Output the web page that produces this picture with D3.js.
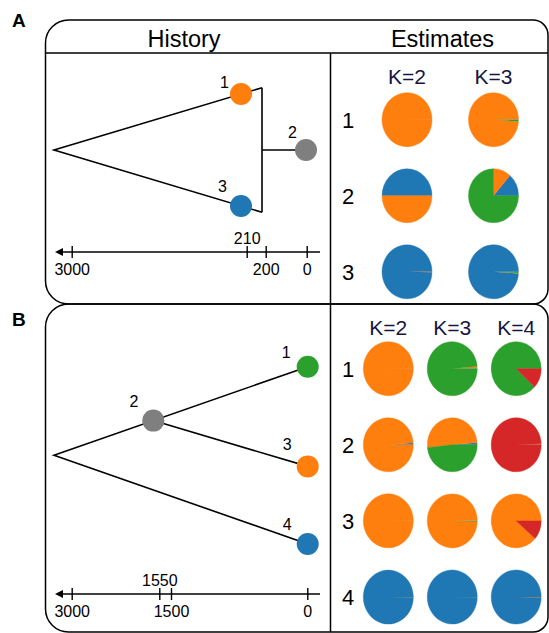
<!DOCTYPE html>
<html>
<head>
<meta charset="utf-8">
<script src="https://cdn.jsdelivr.net/npm/d3@7"></script>
<style>
  body { margin: 0; background: #fff; }
  svg { display: block; }
  text { font-family: "Liberation Sans", Arial, Helvetica, sans-serif; }
</style>
</head>
<body>
<svg id="fig" width="549" height="633"></svg>
<script>
// ---------- data ----------
// ancestry components are listed in the order blue, orange, green, red
const componentColors = ["#1f77b4", "#ff7f0e", "#2ca02c", "#d62728"];
const ancestralGrey = "#7f7f7f";

// Panel A: three populations, estimates at K = 2 and K = 3
const kA = [2, 3];
const popsA = ["1", "2", "3"];
const qA_K2 = [[0.003, 0.997], [0.500, 0.500], [0.997, 0.003]];
const qA_K3 = [[0.002, 0.988, 0.010], [0.136, 0.114, 0.750], [0.990, 0.003, 0.007]];
const timeTicksA = [3000, 210, 200, 0];
const ticksAboveA = [210];
// tree A: split at 3000, samples 1 and 3 at 210, admixed population 2 sampled at 0
const treeNodesA = ["root", "1", "3", "2"];
const treeTimesA = [3000, 210, 210, 0];
const admixTimeA = 200;

// Panel B: four populations, estimates at K = 2, 3, 4
const kB = [2, 3, 4];
const popsB = ["1", "2", "3", "4"];
const qB_K2 = [[0.002, 0.998], [0.012, 0.988], [0.001, 0.999], [0.999, 0.001]];
const qB_K3 = [[0.002, 0.012, 0.986], [0.014, 0.503, 0.483], [0.001, 0.994, 0.005], [0.998, 0.001, 0.001]];
const qB_K4 = [[0.000, 0.000, 0.881, 0.119], [0.002, 0.002, 0.002, 0.994],
               [0.000, 0.887, 0.000, 0.113], [0.995, 0.002, 0.001, 0.002]];
const timeTicksB = [3000, 1550, 1500, 0];
const ticksAboveB = [1550];
// tree B: root split at 3000, ancient sample 2 at 1550 on the lineage of 1, which later splits into 1 and 3
const treeNodesB = ["root", "2", "1", "3", "4"];
const treeTimesB = [3000, 1550, 0, 0, 0];

// ---------- drawing ----------
const svg = d3.select("#fig");
const lineW = 1.6;

function framePath(x0, y0, x1, y1, rl, rr) {
  return `M${x0 + rl},${y0} H${x1 - rr} A${rr},${rr} 0 0 1 ${x1},${y0 + rr} ` +
         `V${y1 - rr} A${rr},${rr} 0 0 1 ${x1 - rr},${y1} H${x0 + rl} ` +
         `A${rl},${rl} 0 0 1 ${x0},${y1 - rl} V${y0 + rl} A${rl},${rl} 0 0 1 ${x0 + rl},${y0} Z`;
}

const frame = { left: 45.5, right: 548, divider: 330.5, aTop: 20, mid: 304, bBottom: 632, header: 53 };

// panel frames
svg.append("path").attr("d", framePath(frame.left, frame.aTop, frame.right, frame.mid, 23, 15))
  .attr("fill", "none").attr("stroke", "#000").attr("stroke-width", 1.5);
svg.append("path").attr("d", framePath(frame.left, frame.mid, frame.right, frame.bBottom, 23, 15))
  .attr("fill", "none").attr("stroke", "#000").attr("stroke-width", 1.5);
// header rule and column dividers
svg.append("line").attr("x1", frame.left).attr("x2", frame.right).attr("y1", frame.header).attr("y2", frame.header)
  .attr("stroke", "#000").attr("stroke-width", 1.5);
svg.append("line").attr("x1", frame.divider).attr("x2", frame.divider).attr("y1", frame.header).attr("y2", frame.bBottom)
  .attr("stroke", "#000").attr("stroke-width", 1.5);

// panel letters and headers
svg.append("text").attr("x", 12).attr("y", 27).attr("font-size", 19).attr("font-weight", "bold").text("A");
svg.append("text").attr("x", 12).attr("y", 326).attr("font-size", 19).attr("font-weight", "bold").text("B");
svg.append("text").attr("x", 184).attr("y", 47).attr("font-size", 23.5).attr("text-anchor", "middle").text("History");
svg.append("text").attr("x", 442.5).attr("y", 47).attr("font-size", 23.5).attr("text-anchor", "middle").text("Estimates");

// ---------- pie grids ----------
const pie = d3.pie().sort(null).value(d => d)
  .startAngle(Math.PI / 2).endAngle(Math.PI / 2 - 2 * Math.PI);
const arc = d3.arc().innerRadius(0).outerRadius(25);

function pieGrid(ks, pops, tables, colRange, rowRange, kLabelY) {
  const x = d3.scalePoint().domain(ks).range(colRange);
  const y = d3.scalePoint().domain(pops).range(rowRange);
  const g = svg.append("g");
  g.selectAll("text.k").data(ks).join("text")
    .attr("x", d => x(d)).attr("y", kLabelY)
    .attr("text-anchor", "middle").attr("font-size", 21).attr("fill", "#15163f")
    .text(d => `K=${d}`);
  g.selectAll("text.pop").data(pops).join("text")
    .attr("x", 348).attr("y", d => y(d)).attr("dy", "0.36em")
    .attr("text-anchor", "middle").attr("font-size", 22)
    .text(d => d);
  ks.forEach((k, ki) => {
    pops.forEach((p, pi) => {
      const cell = g.append("g")
        .attr("transform", `translate(${x(k)},${y(p)}) scale(1,1.08)`);
      cell.selectAll("path").data(pie(tables[ki][pi])).join("path")
        .attr("d", arc)
        .attr("fill", (d, i) => componentColors[i])
        .attr("stroke", (d, i) => componentColors[i])
        .attr("stroke-width", d => d.value >= 0.05 ? 0.4 : 0)
        .attr("opacity", d => d.value > 0 ? 1 : 0);
    });
  });
}

pieGrid(kA, popsA, [qA_K2, qA_K3], [407, 493.5], [119.7, 271.8], 84);
pieGrid(kB, popsB, [qB_K2, qB_K3, qB_K4], [388.3, 516.2], [368.7, 597], 335);

// ---------- time axes ----------
function timeAxis(ticks, above, range, yPos) {
  const x = d3.scaleLinear().domain(ticks).range(range);
  const g = svg.append("g").attr("transform", `translate(0,${yPos})`);
  g.append("line").attr("x1", 58).attr("x2", 320).attr("y1", 0).attr("y2", 0)
    .attr("stroke", "#000").attr("stroke-width", 1.5);
  g.append("path").attr("d", "M55,0 L63,-4 L63,4 Z").attr("fill", "#000");
  const ax = d3.axisBottom(x).tickValues(ticks).tickFormat(d3.format("d")).tickSizeOuter(0);
  const a = g.append("g").call(ax);
  a.select(".domain").remove();
  a.attr("font-family", null).attr("font-size", 16);
  a.selectAll(".tick line").attr("y1", -6).attr("y2", 6).attr("stroke-width", 1.4);
  a.selectAll(".tick text").attr("dy", null).attr("fill", "#000")
    .attr("y", d => above.includes(d) ? -8.5 : 23);
  return x;
}

timeAxis(timeTicksA, ticksAboveA, [71.7, 246.7, 265.7, 306.7], 252);
timeAxis(timeTicksB, ticksAboveB, [71.7, 159.3, 171, 307.3], 594);

// ---------- trees ----------
// Tree A
(function () {
  const tx = d3.scaleLinear().domain([3000, 210, 200, 0]).range([54, 241, 262, 306]);
  const ty = d3.scaleLinear().domain([0, 10]).range([80, 220]);
  const lane = { root: 5, "1": 1, "3": 9, "2": 5 };
  const fill = { "1": componentColors[1], "3": componentColors[0], "2": ancestralGrey };
  const label = { "1": [-12, -6], "3": [-14, -14], "2": [-9, -12] };
  const pos = {};
  treeNodesA.forEach((id, i) => { pos[id] = [tx(treeTimesA[i]), ty(lane[id])]; });
  const xa = tx(admixTimeA);
  const extend = (a, b) => [xa, a[1] + (b[1] - a[1]) * (xa - a[0]) / (b[0] - a[0])];
  const top = extend(pos.root, pos["1"]);
  const bot = extend(pos.root, pos["3"]);
  const g = svg.append("g").attr("stroke", "#000").attr("stroke-width", lineW).attr("fill", "none");
  const line = d3.line();
  g.append("path").attr("d", line([top, pos.root, bot]));
  g.append("path").attr("d", line([top, bot]));
  g.append("path").attr("d", line([[xa, pos["2"][1]], pos["2"]]));
  ["1", "3", "2"].forEach(id => {
    svg.append("circle").attr("cx", pos[id][0]).attr("cy", pos[id][1]).attr("r", 11).attr("fill", fill[id]);
    svg.append("text").attr("x", pos[id][0] + label[id][0]).attr("y", pos[id][1] + label[id][1])
      .attr("text-anchor", "end").attr("font-size", 16).text(id);
  });
})();

// Tree B
(function () {
  const tx = d3.scaleLinear().domain([3000, 1550, 0]).range([54, 153.3, 307.7]);
  const ty = d3.scaleLinear().domain([0, 10]).range([344.5, 566.1]);
  const lane = { root: 5, "1": 1, "3": 5.5, "4": 9 };
  const fill = { "1": componentColors[2], "3": componentColors[1], "4": componentColors[0], "2": ancestralGrey };
  const label = { "1": [-17, -9], "2": [-15, -14], "3": [-16, -16], "4": [-16, -14] };
  const pos = {};
  treeNodesB.forEach((id, i) => { if (id !== "2") pos[id] = [tx(treeTimesB[i]), ty(lane[id])]; });
  // sample 2 sits on the lineage leading to 1
  const x2 = tx(treeTimesB[treeNodesB.indexOf("2")]);
  pos["2"] = [x2, pos.root[1] + (pos["1"][1] - pos.root[1]) * (x2 - pos.root[0]) / (pos["1"][0] - pos.root[0])];
  const g = svg.append("g").attr("stroke", "#000").attr("stroke-width", lineW).attr("fill", "none");
  const line = d3.line();
  g.append("path").attr("d", line([pos["1"], pos.root, pos["4"]]));
  g.append("path").attr("d", line([pos["2"], pos["3"]]));
  ["1", "2", "3", "4"].forEach(id => {
    svg.append("circle").attr("cx", pos[id][0]).attr("cy", pos[id][1]).attr("r", 11).attr("fill", fill[id]);
    svg.append("text").attr("x", pos[id][0] + label[id][0]).attr("y", pos[id][1] + label[id][1])
      .attr("text-anchor", "end").attr("font-size", 16).text(id);
  });
})();
</script>
</body>
</html>
